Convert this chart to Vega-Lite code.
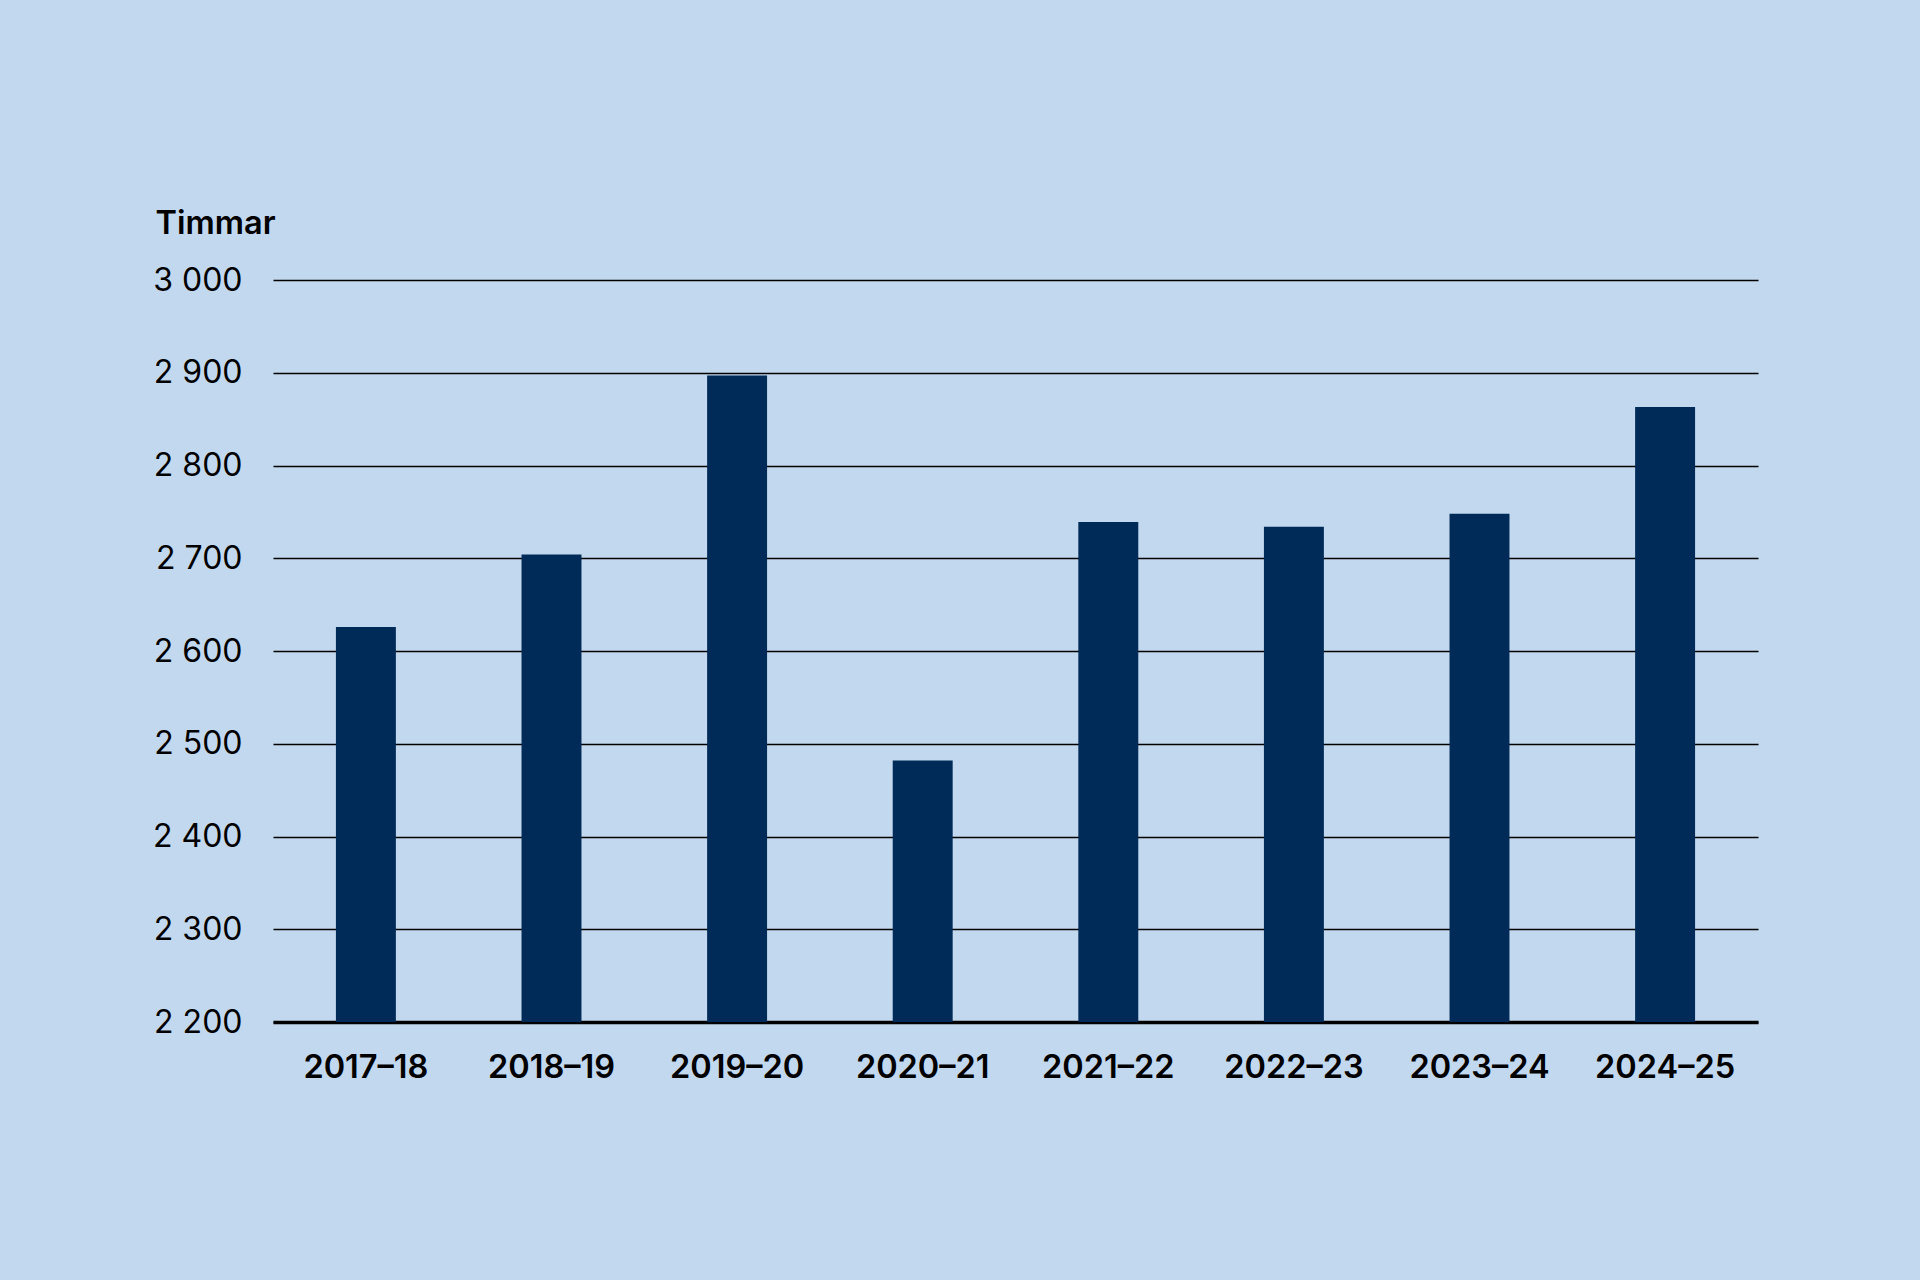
{
  "$schema": "https://vega.github.io/schema/vega-lite/v6.json",
  "autosize": "none",
  "width": 1485,
  "height": 742,
  "padding": {"left": 273, "top": 280, "right": 162, "bottom": 258},
  "background": "#c2d8ef",
  "data": {
    "values": [
      {"period": "2017–18", "timmar": 2626},
      {"period": "2018–19", "timmar": 2704},
      {"period": "2019–20", "timmar": 2897},
      {"period": "2020–21", "timmar": 2482},
      {"period": "2021–22", "timmar": 2739},
      {"period": "2022–23", "timmar": 2734},
      {"period": "2023–24", "timmar": 2748},
      {"period": "2024–25", "timmar": 2863}
    ]
  },
  "mark": {"type": "bar", "color": "#002a58"},
  "encoding": {
    "x": {
      "field": "period",
      "type": "nominal",
      "sort": null,
      "scale": {"paddingInner": 0.677, "paddingOuter": 0.339},
      "axis": {
        "title": null,
        "labelAngle": 0,
        "labelFont": "Inter",
        "labelFontSize": 32.5,
        "labelFontWeight": 600,
        "labelColor": "#000000",
        "labelPadding": 29,
        "ticks": false,
        "domain": true,
        "domainColor": "#000000",
        "domainWidth": 3.5,
        "grid": false
      }
    },
    "y": {
      "field": "timmar",
      "type": "quantitative",
      "scale": {"domain": [2200, 3000], "zero": false, "nice": false},
      "axis": {
        "title": "Timmar",
        "titleAngle": 0,
        "titleAlign": "left",
        "titleBaseline": "alphabetic",
        "titleX": -118,
        "titleY": -47,
        "titleFont": "Inter",
        "titleFontSize": 32.5,
        "titleFontWeight": 600,
        "titleColor": "#000000",
        "values": [2200, 2300, 2400, 2500, 2600, 2700, 2800, 2900, 3000],
        "labelExpr": "replace(format(datum.value, ','), ',', ' ')",
        "labelFont": "Inter",
        "labelFontSize": 32,
        "labelColor": "#000000",
        "labelPadding": 31,
        "ticks": false,
        "tickSize": 0,
        "domain": false,
        "grid": true,
        "gridColor": "#000000",
        "gridWidth": 1.6
      }
    },
    "y2": {"datum": 2200}
  },
  "config": {
    "view": {"stroke": null}
  }
}
